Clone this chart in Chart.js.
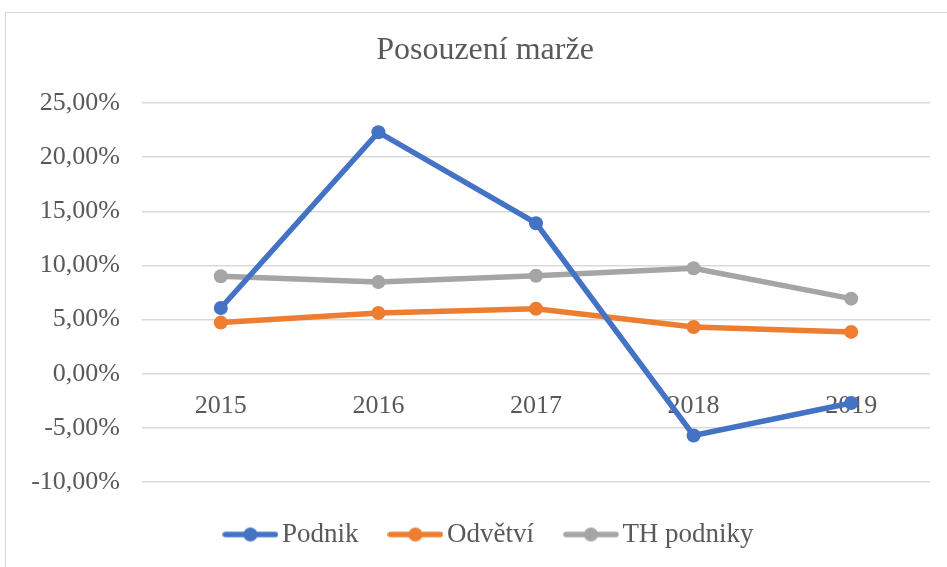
<!DOCTYPE html>
<html>
<head>
<meta charset="utf-8">
<script src="https://cdn.jsdelivr.net/npm/chart.js@4.4.0/dist/chart.umd.min.js"></script>
<style>
  html, body { margin: 0; padding: 0; background: #fff; overflow: hidden; }
  #frame {
    position: absolute; left: 5px; top: 12px;
    width: 960px; height: 570px;
    border: 1px solid #d9d9d9;
  }
  #chart { position: absolute; left: 0; top: 0; }
</style>
</head>
<body>
<div id="frame"></div>
<canvas id="chart" width="947" height="567"></canvas>
<script>
const years = ['2015', '2016', '2017', '2018', '2019'];
const podnik = [6.07, 22.3, 13.9, -5.7, -2.7];
const odvetvi = [4.72, 5.6, 6.0, 4.32, 3.86];
const thPodniky = [9.0, 8.46, 9.05, 9.74, 6.93];
const yTicks = [-10, -5, 0, 5, 10, 15, 20, 25];

const FONT = '"Liberation Serif", "Times New Roman", serif';
const TEXT = '#595959';
const PAD_LEFT = 22;

Chart.defaults.color = TEXT;
Chart.defaults.font.family = FONT;

// legend marker: line with a dot in the middle, like Excel
function legendMark(color) {
    const c = document.createElement('canvas');
    c.width = 56;
    c.height = 18;
    const g = c.getContext('2d');
    g.strokeStyle = color;
    g.lineWidth = 5.5;
    g.lineCap = 'round';
    g.beginPath();
    g.moveTo(3, 9);
    g.lineTo(53, 9);
    g.stroke();
    g.fillStyle = color;
    g.beginPath();
    g.arc(28, 9, 7, 0, Math.PI * 2);
    g.fill();
    return c;
}

function series(label, data, color) {
    return {
        label: label,
        data: data,
        borderColor: color,
        backgroundColor: color,
        borderWidth: 5.5,
        pointRadius: 7,
        pointHoverRadius: 7,
        pointBorderWidth: 0,
        pointStyle: 'circle',
        tension: 0
    };
}

// Excel centres title and legend on the plot, not on the whole frame
const nudgeBlocks = {
    id: 'nudgeBlocks',
    afterLayout(chart) {
        if (chart.titleBlock) chart.titleBlock.left += 18;
        if (chart.legend) chart.legend.left += 34;
    }
};

const ctx = document.getElementById('chart').getContext('2d');
new Chart(ctx, {
    type: 'line',
    data: {
        labels: years,
        datasets: [
            series('Podnik', podnik, '#4472C4'),
            series('Odvětví', odvetvi, '#ED7D31'),
            series('TH podniky', thPodniky, '#A5A5A5')
        ]
    },
    options: {
        responsive: false,
        animation: false,
        layout: {
            padding: { left: PAD_LEFT, right: 17, top: 0, bottom: 9 }
        },
        scales: {
            y: {
                min: -10,
                max: 25,
                afterBuildTicks: function (axis) {
                    axis.ticks = yTicks.map(v => ({ value: v }));
                },
                afterFit: function (axis) {
                    axis.width = 142 - PAD_LEFT;
                },
                grid: {
                    color: '#d9d9d9',
                    lineWidth: 1.5,
                    drawTicks: false
                },
                border: { display: false },
                ticks: {
                    padding: 22,
                    font: { size: 26 },
                    callback: v => v.toFixed(2).replace('.', ',') + '%'
                }
            },
            x: {
                position: { y: 0 },
                offset: true,
                grid: { display: false, drawTicks: false },
                border: { display: false },
                ticks: {
                    padding: 17,
                    font: { size: 26 }
                }
            }
        },
        plugins: {
            title: {
                display: true,
                text: 'Posouzení marže',
                font: { size: 32, weight: 'normal' },
                color: TEXT,
                padding: { top: 31, bottom: 33.6 }
            },
            legend: {
                position: 'bottom',
                labels: {
                    usePointStyle: true,
                    pointStyleWidth: 36,
                    padding: 39,
                    font: { size: 27 },
                    color: TEXT,
                    generateLabels: function (chart) {
                        return chart.data.datasets.map((ds, i) => ({
                            text: ds.label,
                            datasetIndex: i,
                            fontColor: TEXT,
                            pointStyle: legendMark(ds.borderColor),
                            hidden: false,
                            lineWidth: 0
                        }));
                    }
                }
            },
            tooltip: { enabled: false }
        }
    },
    plugins: [nudgeBlocks]
});
</script>
</body>
</html>
